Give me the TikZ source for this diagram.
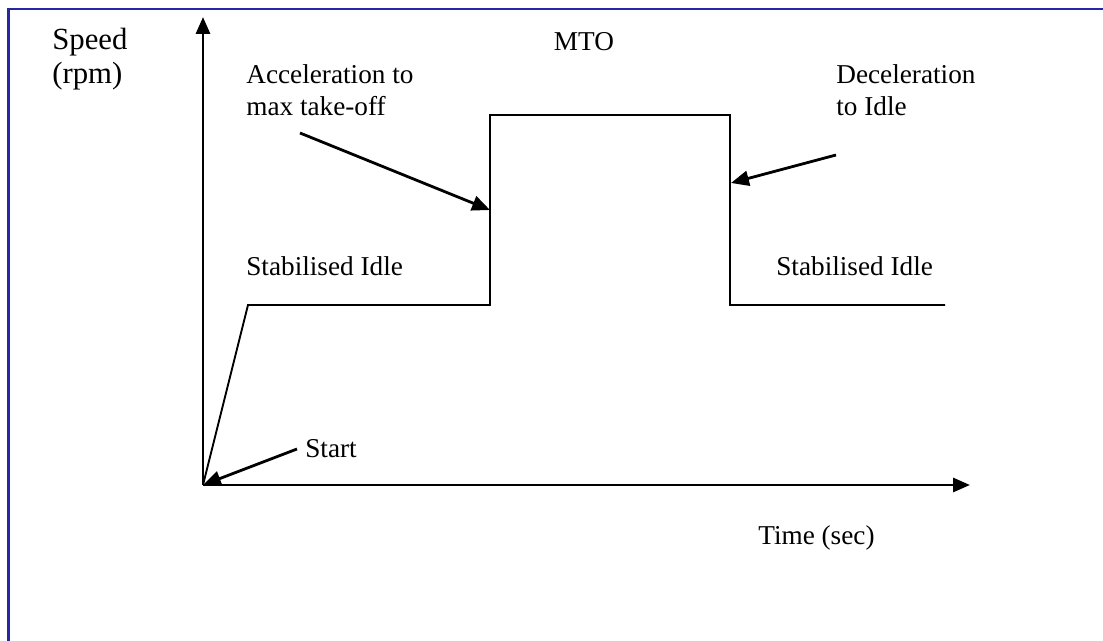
\documentclass[tikz,border=0pt]{standalone}
\usepackage{fontspec}
\setmainfont{Liberation Serif}
\usepackage{tikz}
\usetikzlibrary{arrows.meta}
\definecolor{framenavy}{HTML}{2626A6}

\tikzset{
  axisline/.style={line width=3*0.567pt, -{Triangle[length=17*0.567pt, width=14*0.567pt]}},
  pointer/.style={line width=2.8*0.567pt, -{Triangle[length=18*0.567pt, width=15*0.567pt]}},
  curveline/.style={line width=1.9*0.567pt},
  lbl/.style={font=\fontsize{15.5}{18.2}\selectfont, inner sep=0pt, align=left}
}

\begin{document}
\begin{tikzpicture}[x=0.02cm, y=-0.02cm]
      \useasboundingbox (0,0) rectangle (1103,641);
      \draw[framenavy, line width=2.2*0.567pt] (8.5,641) -- (8.5,9) -- (1103,9);

      \coordinate (origin) at (203,485);
      \coordinate (ytip) at (203,17);
      \coordinate (xtip) at (970,485);
      \coordinate (idleA) at (248,305);
      \coordinate (accB) at (490,305);
      \coordinate (mtoA) at (490,115);
      \coordinate (mtoB) at (730,115);
      \coordinate (decB) at (730,305);
      \coordinate (idleB) at (945,305);
      \coordinate (accpt) at (490,210);
      \coordinate (decpt) at (731,183);

      \draw[axisline] (origin) -- (ytip);
      \draw[axisline] (origin) -- (xtip);
      \draw[curveline] (origin) -- (idleA) -- (accB) -- (mtoA) -- (mtoB) -- (decB) -- (idleB);

      \node[lbl, anchor=west, font=\fontsize{17.5}{19.3}\selectfont] (speed) at (52,59) {Speed\\(rpm)};
      \node[lbl, anchor=west] (acc) at (246,90) {Acceleration to\\max take-off};
      \node[lbl] (mto) at (584,42) {MTO};
      \node[lbl, anchor=west] (dec) at (836,90) {Deceleration\\to Idle};
      \node[lbl, anchor=west] (idle1) at (246,266) {Stabilised Idle};
      \node[lbl, anchor=west] (idle2) at (776,266) {Stabilised Idle};
      \node[lbl, anchor=west] (start) at (305,449) {Start};
      \node[lbl, anchor=west] (time) at (758,538) {Time (sec)};

      \coordinate (acctail) at (300,133);
      \coordinate (dectail) at (836,155);
      \coordinate (starttail) at (297,449);
      \draw[pointer] (acctail) -- (accpt);
      \draw[pointer] (dectail) -- (decpt);
      \draw[pointer] (starttail) -- (origin);
    \end{tikzpicture}
\end{document}
